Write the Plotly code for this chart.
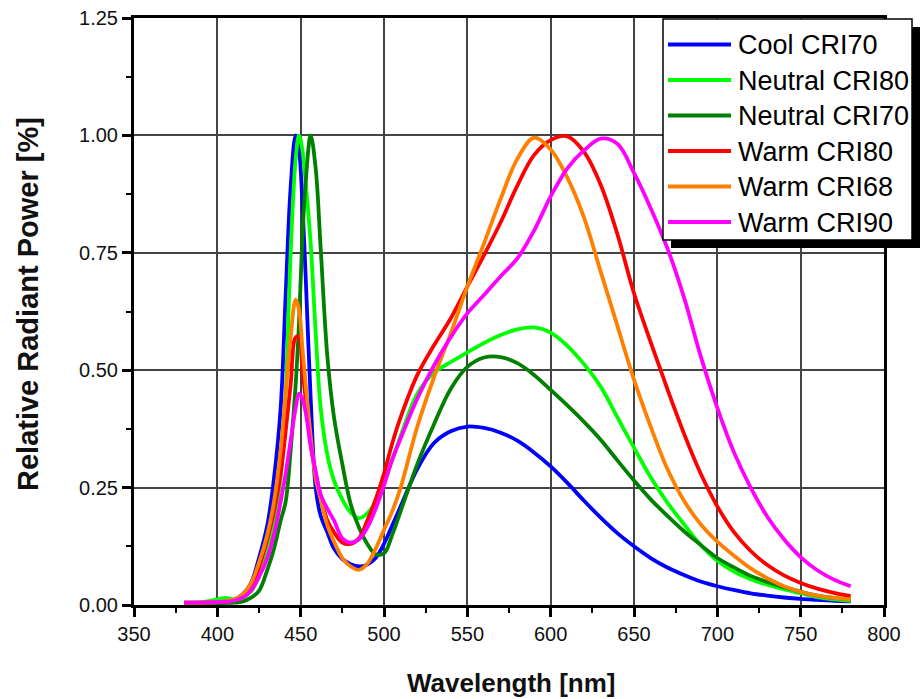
import plotly.graph_objects as go

wavelength = [380, 390, 400, 405, 410, 415, 420, 425, 430, 434, 438, 441, 444, 447, 449, 451, 453, 456, 459, 462,
              466, 470, 475, 480, 485, 490, 495, 500, 505, 510, 520, 530, 540, 550, 560, 570, 580, 590, 600, 610,
              620, 630, 640, 650, 660, 670, 680, 690, 700, 710, 720, 730, 740, 750, 760, 770, 780]

cool_cri70 = [0.004, 0.004, 0.005, 0.007, 0.011, 0.022, 0.045, 0.10, 0.17, 0.27, 0.42, 0.66, 0.89, 1.0, 0.97, 0.86, 0.70, 0.44, 0.25, 0.19,
              0.155, 0.12, 0.098, 0.087, 0.082, 0.086, 0.10, 0.13, 0.17, 0.21, 0.29, 0.345, 0.37, 0.38, 0.377, 0.367, 0.35, 0.325, 0.295, 0.26,
              0.222, 0.186, 0.153, 0.125, 0.10, 0.08, 0.064, 0.05, 0.04, 0.032, 0.025, 0.02, 0.016, 0.013, 0.011, 0.009, 0.008]

neutral_cri80 = [0.005, 0.006, 0.012, 0.015, 0.012, 0.015, 0.028, 0.06, 0.11, 0.18, 0.27, 0.45, 0.75, 0.95, 1.0, 0.97, 0.90, 0.77, 0.58, 0.42,
                 0.32, 0.265, 0.225, 0.197, 0.185, 0.195, 0.22, 0.26, 0.31, 0.36, 0.45, 0.495, 0.517, 0.538, 0.558, 0.575, 0.587, 0.591, 0.58, 0.552,
                 0.513, 0.465, 0.40, 0.335, 0.272, 0.218, 0.172, 0.128, 0.094, 0.071, 0.055, 0.043, 0.033, 0.025, 0.017, 0.012, 0.009]

neutral_cri70 = [0.002, 0.002, 0.003, 0.004, 0.005, 0.007, 0.015, 0.03, 0.075, 0.12, 0.18, 0.22, 0.33, 0.47, 0.60, 0.78, 0.90, 1.0, 0.93, 0.76,
                 0.53, 0.40, 0.30, 0.215, 0.165, 0.13, 0.108, 0.11, 0.15, 0.20, 0.30, 0.385, 0.46, 0.507, 0.527, 0.528, 0.515, 0.49, 0.458, 0.425,
                 0.39, 0.352, 0.308, 0.265, 0.225, 0.19, 0.157, 0.128, 0.10, 0.08, 0.062, 0.049, 0.038, 0.028, 0.02, 0.015, 0.012]

warm_cri80 = [0.005, 0.005, 0.006, 0.007, 0.01, 0.02, 0.04, 0.08, 0.14, 0.20, 0.28, 0.37, 0.47, 0.57, 0.57, 0.50, 0.44, 0.34, 0.28, 0.232,
              0.18, 0.155, 0.133, 0.13, 0.142, 0.18, 0.225, 0.28, 0.345, 0.40, 0.49, 0.553, 0.61, 0.678, 0.745, 0.815, 0.893, 0.958, 0.99, 0.998,
              0.965, 0.895, 0.79, 0.664, 0.56, 0.46, 0.365, 0.28, 0.21, 0.155, 0.115, 0.085, 0.063, 0.047, 0.035, 0.026, 0.019]

warm_cri68 = [0.005, 0.005, 0.006, 0.008, 0.012, 0.022, 0.045, 0.09, 0.15, 0.22, 0.33, 0.45, 0.57, 0.65, 0.63, 0.55, 0.47, 0.36, 0.27, 0.225,
              0.17, 0.135, 0.10, 0.082, 0.075, 0.088, 0.12, 0.16, 0.20, 0.25, 0.38, 0.485, 0.578, 0.678, 0.77, 0.865, 0.95, 0.995, 0.97, 0.91,
              0.825, 0.71, 0.595, 0.48, 0.38, 0.29, 0.222, 0.172, 0.135, 0.105, 0.078, 0.057, 0.04, 0.028, 0.02, 0.015, 0.012]

warm_cri90 = [0.005, 0.005, 0.006, 0.007, 0.009, 0.015, 0.03, 0.06, 0.10, 0.15, 0.22, 0.28, 0.35, 0.42, 0.45, 0.44, 0.41, 0.34, 0.285, 0.235,
              0.205, 0.18, 0.142, 0.133, 0.14, 0.165, 0.205, 0.255, 0.31, 0.355, 0.44, 0.51, 0.57, 0.621, 0.66, 0.70, 0.738, 0.797, 0.87, 0.93,
              0.968, 0.993, 0.982, 0.92, 0.845, 0.76, 0.655, 0.53, 0.42, 0.325, 0.25, 0.188, 0.14, 0.102, 0.074, 0.054, 0.04]

series_names = ["Cool CRI70", "Neutral CRI80", "Neutral CRI70", "Warm CRI80", "Warm CRI68", "Warm CRI90"]
series_values = [cool_cri70, neutral_cri80, neutral_cri70, warm_cri80, warm_cri68, warm_cri90]
series_colors = ["#0000ff", "#00ff00", "#008000", "#ff0000", "#ff8000", "#ff00ff"]

x_ticks = [350, 400, 450, 500, 550, 600, 650, 700, 750, 800]
y_ticks = [0.0, 0.25, 0.5, 0.75, 1.0, 1.25]

FONT = "Liberation Sans, Arial, sans-serif"

fig = go.Figure()
for name, vals, col in zip(series_names, series_values, series_colors):
    fig.add_trace(go.Scatter(x=wavelength, y=vals, mode="lines", name=name,
                             line=dict(color=col, width=3.8, shape="spline", smoothing=1.0),
                             showlegend=False))

# plot area in pixels: left 134, right 884, top 18, bottom 605
L, R, T, B = 134, 884, 18, 605
W_, H_ = R - L, B - T


def px(xp):
    return (xp - L) / W_


def py(yp):
    return (B - yp) / H_


shapes = []
annotations = []
# legend shadow and box
shapes.append(dict(type="rect", xref="paper", yref="paper", x0=px(671), x1=px(921), y0=py(248), y1=py(27),
                   fillcolor="black", line=dict(width=0), layer="above"))
shapes.append(dict(type="rect", xref="paper", yref="paper", x0=px(663), x1=px(912), y0=py(240), y1=py(19),
                   fillcolor="white", line=dict(color="black", width=1.5), layer="above"))
for i, (name, col) in enumerate(zip(series_names, series_colors)):
    yc = 44.5 + i * 35.5
    shapes.append(dict(type="line", xref="paper", yref="paper", x0=px(668), x1=px(731), y0=py(yc), y1=py(yc),
                       line=dict(color=col, width=4), layer="above"))
    annotations.append(dict(text=name, xref="paper", yref="paper", x=px(736), y=py(yc + 1), xanchor="left",
                            yanchor="middle", showarrow=False, font=dict(family=FONT, size=27, color="black")))

annotations.append(dict(text="<b>Wavelength [nm]</b>", xref="paper", yref="paper", x=px(511), y=py(683),
                        xanchor="center", yanchor="middle", showarrow=False,
                        font=dict(family=FONT, size=26, color="#111")))
annotations.append(dict(text="<b>Relative Radiant Power [%]</b>", xref="paper", yref="paper", x=px(28), y=py(304),
                        xanchor="center", yanchor="middle", showarrow=False, textangle=-90,
                        font=dict(family=FONT, size=29, color="#111")))

axis_common = dict(showline=True, linecolor="black", linewidth=3, mirror=True,
                   ticks="outside", ticklen=9, tickwidth=2.5, tickcolor="black",
                   showgrid=True, gridcolor="#444444", gridwidth=1.5, zeroline=False,
                   tickfont=dict(family=FONT, size=20, color="#111"))

fig.update_layout(
    width=920, height=699,
    margin=dict(l=L, r=920 - R, t=T, b=699 - B, autoexpand=False),
    paper_bgcolor="white", plot_bgcolor="white",
    shapes=shapes, annotations=annotations,
    xaxis=dict(range=[350, 800], tickvals=x_ticks, ticktext=[str(v) for v in x_ticks],
               minor=dict(dtick=25, tick0=350, ticks="outside", ticklen=5, tickwidth=2, tickcolor="black", showgrid=False),
               **axis_common),
    yaxis=dict(range=[0, 1.25], tickvals=y_ticks, ticktext=["%.2f" % v for v in y_ticks],
               minor=dict(dtick=0.125, tick0=0, ticks="outside", ticklen=5, tickwidth=2, tickcolor="black", showgrid=False),
               **axis_common),
    showlegend=False,
)

fig.write_html("out.html")
